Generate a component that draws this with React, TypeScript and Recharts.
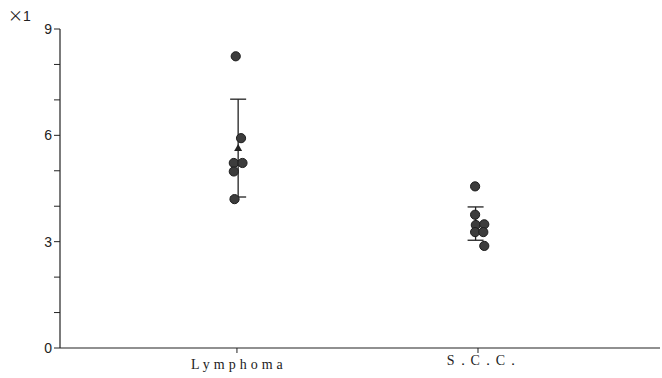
import {
  ScatterChart,
  Scatter,
  XAxis,
  YAxis,
  ErrorBar,
} from 'recharts'

// group positions on the x scale
const groupNames = ['Lymphoma', 'S．C．C．']
const groupPos = [1, 2]

// individual values (x = small horizontal offset in the plot)
const lymphomaX = [0.995, 1.017, 0.987, 1.023, 0.987, 0.99]
const lymphomaY = [8.23, 5.92, 5.22, 5.22, 4.98, 4.2]
const sccX = [1.988, 1.988, 1.991, 2.026, 1.988, 2.022, 2.026]
const sccY = [4.56, 3.76, 3.47, 3.49, 3.27, 3.27, 2.88]

// mean ± SD
const meanX = [1.005, 1.99]
const meanY = [5.64, 3.51]
const sdY = [1.38, 0.47]

const yTicks = [0, 1, 2, 3, 4, 5, 6, 7, 8, 9]

const lymphoma = lymphomaX.map((x, i) => ({ x, y: lymphomaY[i] }))
const scc = sccX.map((x, i) => ({ x, y: sccY[i] }))
const means = meanX.map((x, i) => ({ x, y: meanY[i], err: sdY[i] }))

const Dot = (p: any) => (
  <circle cx={p.cx} cy={p.cy} r={4.6} fill="#3c3c3c" stroke="#1e1e1e" strokeWidth={1} />
)

const Tri = (p: any) => (
  <path
    d={`M${p.cx},${p.cy - 4} L${p.cx + 4},${p.cy + 3} L${p.cx - 4},${p.cy + 3} Z`}
    fill="#222"
  />
)

const XTick = (p: any) => {
  const i = groupPos.indexOf(p.payload.value)
  if (i < 0) return null
  return (
    <text
      x={p.x + (i === 0 ? 2 : 6)}
      y={p.y + (i === 0 ? 14 : 10)}
      textAnchor="middle"
      fontFamily="'Liberation Serif', serif"
      fontSize={14}
      letterSpacing={i === 0 ? 4 : 1}
      fill="#222"
    >
      {groupNames[i]}
    </text>
  )
}

export default function App() {
  return (
    <div style={{ position: 'absolute', left: 0, top: 0, width: 662, height: 378, background: '#fff' }}>
      <div
        style={{
          position: 'absolute',
          left: 8,
          top: 6,
          fontSize: 15,
          color: '#222',
          lineHeight: '18px',
          zIndex: 1,
        }}
      >
        <span style={{ fontFamily: "'Noto Sans CJK JP', sans-serif", fontSize: 15 }}>×</span>
        <span style={{ fontFamily: "'Liberation Sans', Arial, sans-serif", fontSize: 14 }}>1</span>
      </div>
      <ScatterChart width={662} height={378} margin={{ top: 29, right: 2, bottom: 0, left: 0 }}>
        <XAxis
          type="number"
          dataKey="x"
          domain={[0.266, 2.755]}
          ticks={groupPos}
          tick={<XTick />}
          height={30}
          tickSize={5}
          tickLine={{ stroke: '#222' }}
          axisLine={{ stroke: '#222', strokeWidth: 1.2 }}
          allowDataOverflow
        />
        <YAxis
          type="number"
          dataKey="y"
          domain={[0, 9]}
          ticks={yTicks}
          interval={0}
          width={60}
          tickSize={6}
          tickFormatter={(v: number) => (v % 3 === 0 ? String(v) : '')}
          tick={{ fontSize: 14, fill: '#222', fontFamily: "'Liberation Sans', Arial, sans-serif" }}
          tickLine={{ stroke: '#222' }}
          axisLine={{ stroke: '#222', strokeWidth: 1.2 }}
        />
        <Scatter data={means} shape={<Tri />} isAnimationActive={false}>
          <ErrorBar dataKey="err" direction="y" width={8} stroke="#222" strokeWidth={1.3} />
        </Scatter>
        <Scatter data={lymphoma} shape={<Dot />} isAnimationActive={false} />
        <Scatter data={scc} shape={<Dot />} isAnimationActive={false} />
      </ScatterChart>
    </div>
  )
}
